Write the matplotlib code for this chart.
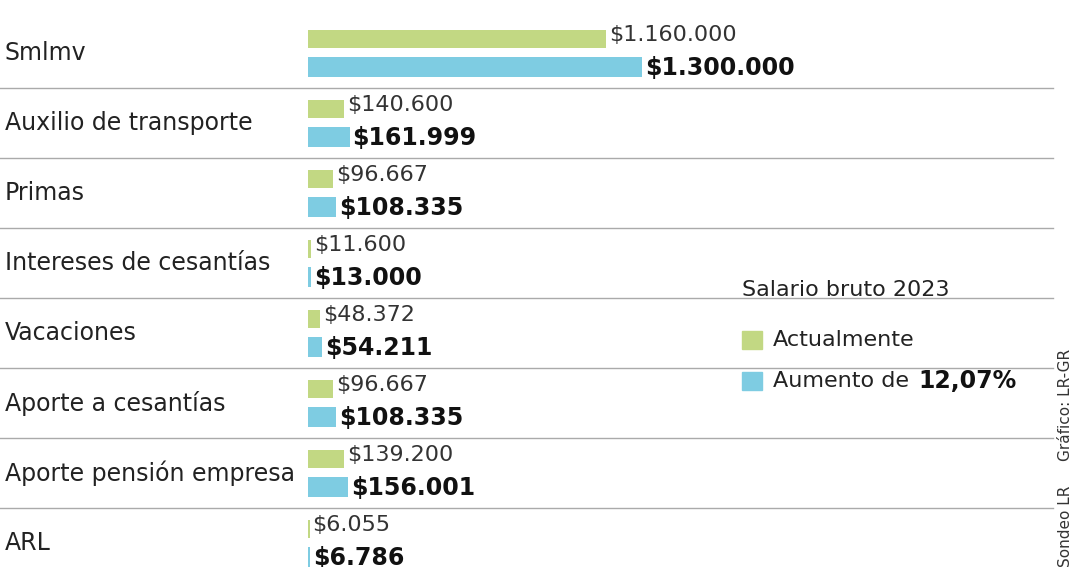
import matplotlib.pyplot as plt
from matplotlib.patches import Rectangle

plt.rcParams['font.family'] = ['Liberation Sans Narrow', 'DejaVu Sans Condensed', 'DejaVu Sans']

categories = ["Smlmv", "Auxilio de transporte", "Primas", "Intereses de cesantías",
              "Vacaciones", "Aporte a cesantías", "Aporte pensión empresa", "ARL"]
actual = [1160000, 140600, 96667, 11600, 48372, 96667, 139200, 6055]
aumento = [1300000, 161999, 108335, 13000, 54211, 108335, 156001, 6786]
actual_txt = ["$1.160.000", "$140.600", "$96.667", "$11.600", "$48.372", "$96.667", "$139.200", "$6.055"]
aumento_txt = ["$1.300.000", "$161.999", "$108.335", "$13.000", "$54.211", "$108.335", "$156.001", "$6.786"]

GREEN = "#c2d883"
BLUE = "#7ecce2"

W, H = 1080, 567
fig = plt.figure(figsize=(W / 100, H / 100), dpi=100)
ax = fig.add_axes([0, 0, 1, 1])
ax.axis("off")

# pixel 308 = 0 money, 334 px per 1.3M
x0 = 308
k = 1300000 / 334
ax.set_xlim(-x0 * k, (W - x0) * k)
ax.set_ylim((567 - 18) / 70, -18 / 70)
px = lambda p: (p - x0) * k  # pixel x to data x

ax.barh([i + 0.3 for i in range(8)], actual, height=0.26, color=GREEN)
ax.barh([i + 0.7 for i in range(8)], aumento, height=0.29, color=BLUE)

for i, name in enumerate(categories):
    ax.text(px(5), i + 0.5, name, fontsize=17, va="center", ha="left", color="#222222")
    ax.text(actual[i] + 3 * k, i + 0.25, actual_txt[i], fontsize=16, va="center", color="#333333")
    ax.text(aumento[i] + 3 * k, i + 0.72, aumento_txt[i], fontsize=17, fontweight="bold",
            va="center", color="#111111")
    if i < 7:
        ax.plot([px(0), px(1053)], [i + 1, i + 1], color="#aaaaaa", lw=1)

# legend
ax.text(px(742), (290 - 18) / 70, "Salario bruto 2023", fontsize=16, va="center", color="#222222")
for yy, c, lab in [(340, GREEN, "Actualmente"), (381, BLUE, "Aumento de ")]:
    ax.add_patch(Rectangle((px(742), (yy - 9 - 18) / 70), 20 * k, 18 / 70, color=c))
    t = ax.text(px(773), (yy - 18) / 70, lab, fontsize=16, va="center", color="#222222")
fig.canvas.draw()
bb = t.get_window_extent()
ax.text(px(bb.x1 + 2), (381 - 18) / 70, "12,07%", fontsize=17, fontweight="bold", va="center", color="#111111")

ax.text(px(1066), (405 - 18) / 70, "Gráfico: LR-GR", fontsize=11, rotation=90, va="center", ha="center", color="#333333")
ax.text(px(1066), 567 / 70 - 18 / 70, "Sondeo LR", fontsize=11, rotation=90, va="bottom", ha="center", color="#333333")

fig.savefig("out.png", dpi=100)
